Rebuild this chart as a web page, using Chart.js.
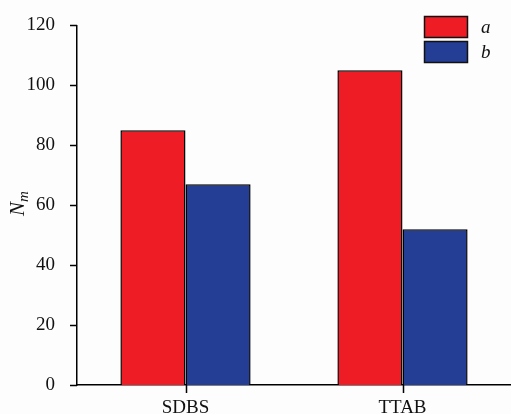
<!DOCTYPE html>
<html>
<head>
<meta charset="utf-8">
<script src="https://cdn.jsdelivr.net/npm/chart.js@4"></script>
<style>
  html, body { margin: 0; padding: 0; background: #fdfdfd; }
  #wrap { width: 511px; height: 414px; }
</style>
</head>
<body>
<div id="wrap"><canvas id="chart-nm"></canvas></div>
<script>
const categories = ["SDBS", "TTAB"];
const seriesA = [85, 105];
const seriesB = [67, 52];
const yTicks = [0, 20, 40, 60, 80, 100, 120];

const serif = "'Liberation Serif', 'DejaVu Serif', serif";

// legend boxes top-right, outward tick marks, and the N_m title
const boxLegend = {
  id: "boxLegend",
  afterDraw(chart) {
    const c = chart.ctx;
    const xs = chart.scales.x, ys = chart.scales.y;
    c.save();
    c.strokeStyle = "#000";
    c.lineWidth = 1.5;
    c.beginPath();
    yTicks.forEach(v => {
      const py = Math.round(ys.getPixelForValue(v)) + 0.5;
      c.moveTo(ys.right - 7, py);
      c.lineTo(ys.right, py);
    });
    categories.forEach((_, i) => {
      const px = Math.round(xs.getPixelForValue(i)) + 0.5;
      c.moveTo(px, xs.top);
      c.lineTo(px, xs.top + 8);
    });
    c.stroke();

    chart.data.datasets.forEach((ds, i) => {
      const x = 424, y = 16 + i * 25, w = 44, h = 22;
      c.fillStyle = ds.backgroundColor;
      c.fillRect(x, y, w, h);
      c.strokeStyle = "#111";
      c.lineWidth = 1.5;
      c.strokeRect(x + 0.5, y + 0.5, w - 1, h - 1);
      c.fillStyle = "#111";
      c.font = "italic 19px " + serif;
      c.textBaseline = "middle";
      c.fillText(ds.label, 481, y + h / 2 + 1);
    });
    c.translate(24, 205);
    c.rotate(-Math.PI / 2);
    c.font = "italic 21px " + serif;
    c.textBaseline = "alphabetic";
    c.fillText("N", -11, 0);
    c.font = "italic 15px " + serif;
    c.fillText("m", 3, 4);
    c.restore();
  }
};

new Chart(document.getElementById("chart-nm"), {
  type: "bar",
  data: {
    labels: categories,
    datasets: [
      { label: "a", data: seriesA, backgroundColor: "#ee1c25", borderColor: "#000", borderWidth: 1.5 },
      { label: "b", data: seriesB, backgroundColor: "#233e94", borderColor: "#000", borderWidth: 1.5 }
    ]
  },
  options: {
    responsive: true,
    maintainAspectRatio: false,
    animation: false,
    layout: { padding: { top: 14.5, right: 0, left: 0, bottom: 0 } },
    datasets: { bar: { categoryPercentage: 0.6, barPercentage: 1 } },
    plugins: { legend: { display: false }, tooltip: { enabled: false } },
    scales: {
      x: {
        grid: { display: false },
        border: { color: "#000", width: 1.5 },
        ticks: { color: "#111", font: { family: serif, size: 19 }, padding: 4 },
        afterFit(s) { s.height = 29; }
      },
      y: {
        min: 0, max: 120,
        afterBuildTicks(s) { s.ticks = yTicks.map(v => ({ value: v })); },
        grid: { display: false },
        border: { color: "#000", width: 1.5 },
        ticks: { color: "#111", font: { family: serif, size: 19 }, padding: 14 },
        afterFit(s) { s.width = 77; }
      }
    }
  },
  plugins: [boxLegend]
});
</script>
</body>
</html>
